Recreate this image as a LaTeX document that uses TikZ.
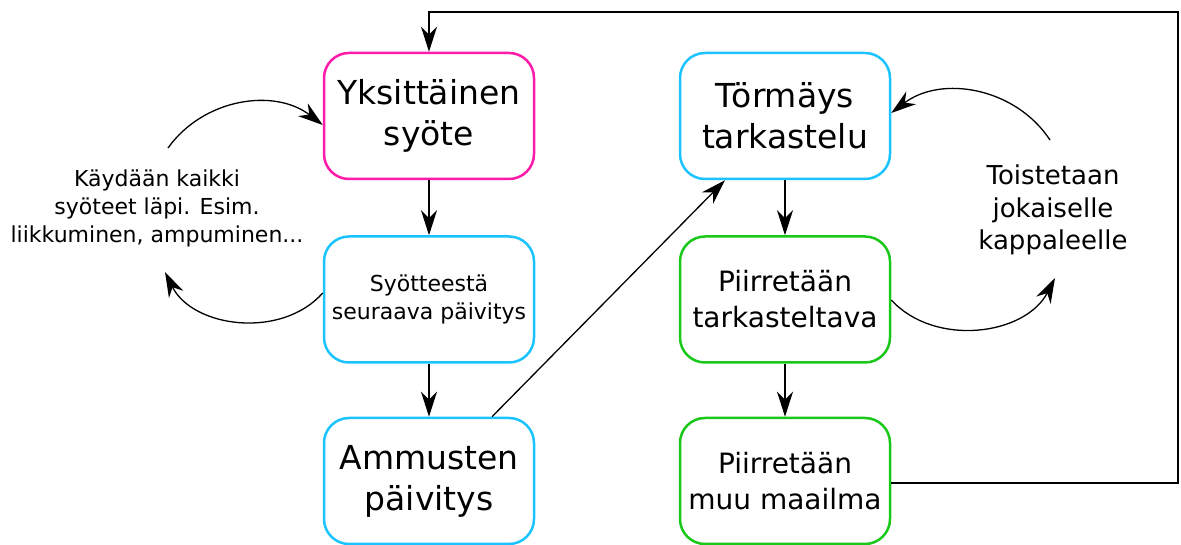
\documentclass[tikz,border=0pt]{standalone}
\usepackage{fontspec}
\setmainfont{DejaVu Sans}
\usetikzlibrary{arrows.meta}
\definecolor{boxmagenta}{RGB}{255,26,170}
\definecolor{boxcyan}{RGB}{28,196,255}
\definecolor{boxgreen}{RGB}{26,200,26}
\tikzset{
  x=1pt, y=1pt,
  stepbox/.style={draw, line width=2.5pt, rounded corners=25pt, fill=white,
    minimum width=210pt, minimum height=126pt, inner sep=0pt, align=center},
  bigtext/.style={font=\fontsize{33}{41}\selectfont},
  midtext/.style={font=\fontsize{28}{36}\selectfont},
  smalltext/.style={font=\fontsize{22}{28}\selectfont},
  conn/.style={line width=1.3pt, -{Stealth[length=25pt, width=16pt, inset=8pt]}},
}
\begin{document}
\begin{tikzpicture}
\useasboundingbox (0,0) rectangle (1181,545);

% left column
\node[stepbox, draw=boxmagenta, bigtext] (input) at (429,429) {Yksittäinen\\syöte};
\node[stepbox, draw=boxcyan, smalltext] (update) at (429,245.5) {Syötteestä\\seuraava päivitys};
\node[stepbox, draw=boxcyan, bigtext] (ammo) at (429,64) {Ammusten\\päivitys};

% right column
\node[stepbox, draw=boxcyan, bigtext] (collide) at (785,429) {Törmäys\\tarkastelu};
\node[stepbox, draw=boxgreen, midtext] (drawobj) at (785,245.5) {Piirretään\\tarkasteltava};
\node[stepbox, draw=boxgreen, midtext] (drawworld) at (785,64) {Piirretään\\muu maailma};

% side notes
\node[smalltext, align=center] (notel) at (157,337) {Käydään kaikki\\syöteet läpi. Esim.\\liikkuminen, ampuminen...};
\node[font=\fontsize{26}{32.5}\selectfont, align=center] (noter) at (1053,335) {Toistetaan\\jokaiselle\\kappaleelle};

% main flow
\draw[conn] (input) -- (update);
\draw[conn] (update) -- (ammo);
\draw[conn] (collide) -- (drawobj);
\draw[conn] (drawobj) -- (drawworld);
\draw[conn] (ammo.north -| 492,0) -- (collide.south -| 725,0);

% return to the start
\coordinate (cornerbr) at (1178,62);
\coordinate (cornertr) at (1178,533);
\coordinate (cornertl) at (429,533);
\draw[conn] (drawworld.east |- cornerbr) -- (cornerbr) -- (cornertr) -- (cornertl) -- (input.north);

% loop arrows around the notes
\coordinate (ltop) at (168,397);
\coordinate (lbot) at (165,273);
\coordinate (rtop) at (1050,405);
\coordinate (rbot) at (1055,267);
\draw[conn] (ltop) to[bend left=46] (input.west |- 0,420);
\draw[conn] (update.west |- 0,252) to[bend left=56] (lbot);
\draw[conn] (rtop) to[bend right=47] (collide.east |- 0,432);
\draw[conn] (drawobj.east |- 0,245) to[bend right=55] (rbot);
\end{tikzpicture}
\end{document}
